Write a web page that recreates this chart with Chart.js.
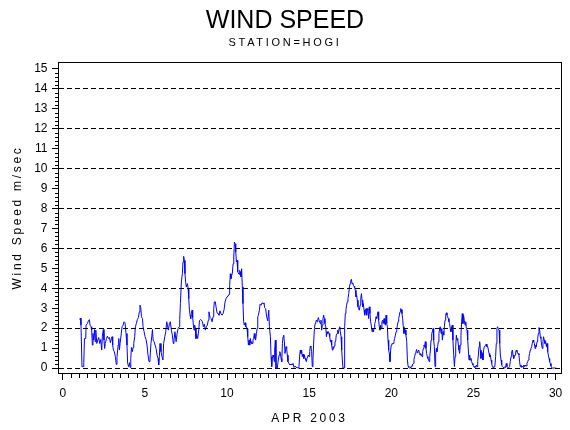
<!DOCTYPE html>
<html>
<head>
<meta charset="utf-8">
<title>Wind Speed - HOGI</title>
<script src="https://cdn.jsdelivr.net/npm/chart.js@4/dist/chart.umd.min.js"></script>
<style>
  html, body { margin: 0; padding: 0; background: #fff; }
  #wrap { width: 570px; height: 430px; }
</style>
</head>
<body>
<div id="wrap"><canvas id="windChart"></canvas></div>
<script>
// Hourly-ish readings, day of month (April 2003)
const days = [
  1.03, 1.07, 1.11, 1.17, 1.26, 1.28, 1.32, 1.40, 1.42, 1.50,
  1.56, 1.62, 1.66, 1.72, 1.76, 1.80, 1.84, 1.88, 1.93, 1.97,
  2.01, 2.07, 2.13, 2.19, 2.25, 2.31, 2.37, 2.41, 2.47, 2.51,
  2.55, 2.59, 2.66, 2.72, 2.78, 2.84, 2.90, 2.96, 3.00, 3.04,
  3.08, 3.14, 3.20, 3.26, 3.30, 3.37, 3.41, 3.45, 3.49, 3.55,
  3.61, 3.67, 3.73, 3.79, 3.85, 3.91, 3.95, 4.01, 4.06, 4.10,
  4.14, 4.18, 4.24, 4.28, 4.32, 4.38, 4.42, 4.48, 4.54, 4.60,
  4.66, 4.70, 4.75, 4.79, 4.85, 4.89, 4.95, 5.01, 5.07, 5.13,
  5.19, 5.25, 5.31, 5.37, 5.42, 5.46, 5.50, 5.56, 5.62, 5.68,
  5.74, 5.80, 5.84, 5.88, 5.92, 5.98, 6.04, 6.10, 6.14, 6.21,
  6.27, 6.33, 6.37, 6.43, 6.49, 6.55, 6.61, 6.67, 6.73, 6.77,
  6.83, 6.90, 6.96, 7.02, 7.08, 7.12, 7.16, 7.22, 7.28, 7.32,
  7.36, 7.40, 7.44, 7.48, 7.52, 7.59, 7.63, 7.67, 7.71, 7.75,
  7.79, 7.83, 7.87, 7.91, 7.95, 7.99, 8.03, 8.07, 8.11, 8.15,
  8.21, 8.28, 8.32, 8.38, 8.44, 8.50, 8.56, 8.62, 8.68, 8.74,
  8.80, 8.86, 8.90, 8.97, 9.03, 9.09, 9.15, 9.19, 9.23, 9.29,
  9.33, 9.39, 9.45, 9.51, 9.57, 9.63, 9.70, 9.76, 9.82, 9.88,
  9.94, 10.00, 10.06, 10.12, 10.16, 10.20, 10.24, 10.28, 10.32, 10.37,
  10.41, 10.45, 10.49, 10.53, 10.57, 10.61, 10.65, 10.69, 10.73, 10.77,
  10.81, 10.85, 10.89, 10.93, 10.97, 11.01, 11.05, 11.10, 11.14, 11.18,
  11.22, 11.26, 11.30, 11.34, 11.38, 11.42, 11.46, 11.50, 11.54, 11.58,
  11.62, 11.66, 11.70, 11.74, 11.79, 11.83, 11.87, 11.91, 11.97, 12.01,
  12.07, 12.13, 12.19, 12.25, 12.29, 12.35, 12.41, 12.48, 12.54, 12.58,
  12.64, 12.68, 12.72, 12.76, 12.80, 12.84, 12.88, 12.90, 12.94, 12.98,
  13.06, 13.12, 13.17, 13.21, 13.25, 13.29, 13.33, 13.37, 13.41, 13.45,
  13.49, 13.53, 13.59, 13.63, 13.67, 13.71, 13.77, 13.83, 13.90, 13.96,
  14.02, 14.08, 14.14, 14.20, 14.26, 14.32, 14.38, 14.42, 14.46, 14.50,
  14.54, 14.58, 14.63, 14.67, 14.71, 14.75, 14.79, 14.83, 14.87, 14.91,
  14.95, 14.99, 15.03, 15.07, 15.11, 15.15, 15.19, 15.23, 15.28, 15.32,
  15.36, 15.40, 15.44, 15.48, 15.52, 15.56, 15.60, 15.64, 15.68, 15.72,
  15.76, 15.80, 15.84, 15.88, 15.92, 15.96, 16.01, 16.05, 16.09, 16.13,
  16.17, 16.21, 16.25, 16.29, 16.33, 16.37, 16.41, 16.45, 16.49, 16.53,
  16.57, 16.61, 16.65, 16.70, 16.74, 16.78, 16.82, 16.86, 16.90, 16.94,
  16.98, 17.02, 17.06, 17.14, 17.16, 17.20, 17.24, 17.28, 17.32, 17.36,
  17.41, 17.45, 17.49, 17.53, 17.57, 17.61, 17.65, 17.69, 17.73, 17.77,
  17.81, 17.85, 17.89, 17.93, 17.97, 18.01, 18.05, 18.10, 18.14, 18.18,
  18.22, 18.26, 18.30, 18.34, 18.38, 18.42, 18.46, 18.50, 18.54, 18.58,
  18.62, 18.66, 18.70, 18.74, 18.78, 18.83, 18.87, 18.91, 18.95, 18.99,
  19.03, 19.07, 19.11, 19.15, 19.19, 19.23, 19.27, 19.31, 19.35, 19.39,
  19.43, 19.47, 19.51, 19.56, 19.60, 19.64, 19.68, 19.72, 19.76, 19.80,
  19.84, 19.88, 19.92, 19.96, 20.00, 20.04, 20.08, 20.12, 20.16, 20.20,
  20.25, 20.29, 20.33, 20.37, 20.41, 20.45, 20.49, 20.53, 20.57, 20.61,
  20.65, 20.69, 20.73, 20.77, 20.81, 20.85, 20.89, 20.94, 20.98, 21.02,
  21.06, 21.10, 21.14, 21.18, 21.22, 21.26, 21.30, 21.34, 21.38, 21.42,
  21.46, 21.50, 21.54, 21.58, 21.62, 21.67, 21.71, 21.75, 21.79, 21.83,
  21.87, 21.91, 21.95, 21.99, 22.03, 22.07, 22.11, 22.15, 22.19, 22.23,
  22.27, 22.31, 22.34, 22.38, 22.42, 22.46, 22.50, 22.54, 22.58, 22.62,
  22.66, 22.70, 22.74, 22.78, 22.82, 22.86, 22.90, 22.94, 22.98, 23.03,
  23.07, 23.11, 23.15, 23.19, 23.23, 23.27, 23.31, 23.35, 23.39, 23.43,
  23.47, 23.51, 23.55, 23.59, 23.63, 23.67, 23.71, 23.75, 23.80, 23.84,
  23.88, 23.92, 23.96, 24.00, 24.04, 24.08, 24.12, 24.16, 24.20, 24.24,
  24.28, 24.32, 24.36, 24.40, 24.44, 24.49, 24.53, 24.57, 24.61, 24.65,
  24.69, 24.73, 24.77, 24.81, 24.85, 24.89, 24.93, 24.97, 25.01, 25.05,
  25.09, 25.14, 25.18, 25.22, 25.26, 25.30, 25.34, 25.38, 25.42, 25.46,
  25.50, 25.54, 25.58, 25.62, 25.66, 25.70, 25.74, 25.78, 25.82, 25.87,
  25.91, 25.95, 25.99, 26.03, 26.07, 26.11, 26.15, 26.19, 26.23, 26.27,
  26.31, 26.35, 26.39, 26.43, 26.47, 26.51, 26.56, 26.60, 26.64, 26.68,
  26.72, 26.76, 26.80, 26.84, 26.88, 26.92, 26.96, 27.00, 27.04, 27.08,
  27.12, 27.16, 27.20, 27.24, 27.29, 27.33, 27.37, 27.41, 27.45, 27.49,
  27.53, 27.57, 27.61, 27.65, 27.69, 27.73, 27.77, 27.81, 27.85, 27.89,
  27.93, 27.98, 28.02, 28.06, 28.10, 28.14, 28.18, 28.22, 28.26, 28.30,
  28.34, 28.38, 28.42, 28.46, 28.50, 28.54, 28.58, 28.63, 28.67, 28.71,
  28.75, 28.79, 28.83, 28.87, 28.91, 28.95, 28.99, 29.03, 29.07, 29.11,
  29.15, 29.19, 29.23, 29.27, 29.31, 29.35, 29.40, 29.44, 29.48, 29.52,
  29.56, 29.60, 29.64, 29.68, 29.72, 29.76, 29.80, 29.92, 30.04
];

// Wind speed, m/sec
const speed = [
  2.43, 2.50, 2.15, 0.07, 0.07, 0.27, 1.48, 1.48, 2.15, 2.23,
  2.37, 2.43, 2.15, 2.07, 1.90, 1.15, 1.73, 1.40, 1.93, 1.32,
  1.90, 1.23, 1.40, 1.53, 1.23, 1.43, 0.90, 1.60, 1.93, 1.40,
  0.98, 1.23, 1.48, 1.60, 1.48, 1.53, 1.27, 1.48, 1.57, 1.15,
  0.90, 0.82, 0.57, 0.18, 0.53, 1.15, 1.48, 0.90, 1.23, 1.65,
  2.07, 2.15, 2.32, 2.27, 1.73, 1.15, 0.23, 0.07, 0.27, 0.03,
  0.48, 1.03, 0.82, 1.03, 1.23, 1.57, 2.07, 2.23, 2.43, 2.53,
  2.82, 3.15, 3.03, 2.57, 2.48, 2.07, 1.82, 1.57, 1.43, 1.15,
  0.65, 0.32, 0.48, 1.23, 1.60, 1.93, 1.40, 1.32, 1.15, 0.98,
  0.65, 0.48, 0.15, 0.57, 1.23, 0.82, 0.57, 0.40, 1.23, 1.57,
  1.82, 2.32, 2.15, 1.90, 2.23, 2.32, 1.90, 1.65, 1.23, 1.40,
  1.82, 1.32, 1.73, 1.98, 2.07, 2.43, 3.23, 4.32, 4.73, 5.32,
  5.60, 5.40, 4.73, 4.32, 4.07, 4.23, 4.00, 3.48, 2.90, 2.65,
  2.48, 2.73, 2.90, 2.53, 2.15, 1.90, 2.15, 1.98, 1.48, 1.70,
  1.48, 1.90, 2.37, 2.43, 2.40, 2.32, 2.07, 2.20, 1.90, 2.07,
  2.15, 2.40, 2.82, 2.53, 2.48, 2.32, 2.57, 2.98, 3.32, 3.32,
  3.07, 2.77, 2.73, 2.65, 2.87, 2.73, 2.65, 2.73, 2.93, 3.32,
  3.48, 3.57, 3.60, 3.70, 4.15, 4.73, 4.48, 4.65, 4.73, 5.23,
  5.57, 6.32, 6.23, 5.82, 5.32, 5.40, 4.82, 4.77, 4.70, 4.90,
  4.82, 4.57, 4.98, 4.07, 3.23, 2.32, 2.15, 2.27, 2.07, 2.07,
  1.98, 1.57, 1.15, 1.40, 1.15, 1.48, 1.23, 1.32, 1.23, 1.40,
  1.48, 1.73, 1.48, 1.40, 1.73, 1.98, 2.57, 2.65, 2.90, 3.20,
  3.15, 3.27, 3.23, 3.27, 3.03, 2.98, 2.57, 2.37, 2.90, 2.07,
  1.57, 0.57, 0.07, 0.48, 0.65, 0.57, 0.32, 0.90, 1.40, 0.00,
  0.00, 0.40, 0.65, 0.82, 0.73, 0.48, 0.32, 1.23, 1.57, 1.65,
  1.32, 0.73, 1.07, 0.98, 0.65, 0.32, 0.23, 0.15, 0.20, 0.15,
  0.23, 0.03, 0.10, 0.03, 0.03, 0.00, 0.07, 0.60, 0.90, 0.73,
  0.90, 0.57, 0.70, 0.48, 0.65, 0.48, 0.40, 0.32, 0.48, 0.48,
  0.65, 0.57, 0.82, 1.10, 1.03, 0.82, 0.07, 0.40, 1.40, 1.98,
  2.23, 2.32, 2.40, 2.32, 2.43, 2.53, 2.40, 2.40, 2.23, 2.40,
  1.90, 2.15, 2.48, 2.65, 2.48, 2.23, 2.07, 1.57, 1.82, 1.73,
  1.82, 1.73, 1.57, 1.32, 1.40, 1.15, 0.90, 1.07, 0.98, 1.10,
  1.32, 1.32, 1.65, 1.73, 1.90, 1.73, 1.98, 2.07, 1.82, 1.57,
  0.90, 0.40, 0.00, 0.00, 2.07, 2.73, 2.93, 3.15, 3.32, 3.48,
  3.73, 4.07, 4.23, 4.37, 4.45, 4.23, 4.27, 4.15, 4.10, 4.03,
  3.90, 3.57, 3.65, 3.40, 3.07, 2.98, 2.90, 3.15, 3.48, 3.73,
  3.40, 3.07, 3.23, 2.90, 2.65, 2.82, 2.98, 2.65, 2.98, 2.90,
  2.48, 3.07, 2.73, 2.32, 2.15, 1.82, 1.98, 1.82, 1.98, 2.23,
  2.32, 2.57, 2.48, 2.65, 2.82, 2.40, 2.07, 1.90, 2.15, 1.98,
  2.32, 2.40, 2.23, 2.48, 2.23, 2.15, 2.65, 2.23, 2.07, 1.40,
  0.90, 0.73, 0.32, 0.90, 1.15, 1.23, 1.23, 1.23, 1.32, 1.48,
  1.65, 1.82, 1.90, 2.15, 2.32, 2.48, 2.65, 2.82, 2.98, 2.93,
  2.73, 2.48, 2.07, 1.73, 1.98, 1.90, 1.65, 1.32, 0.40, 0.10,
  0.03, 0.00, 0.03, 0.00, 0.10, 0.10, 0.20, 0.23, 0.43, 0.57,
  0.73, 0.82, 0.93, 0.77, 0.82, 0.90, 0.73, 0.65, 0.73, 0.65,
  0.57, 0.82, 0.98, 1.15, 1.07, 1.32, 0.98, 0.73, 0.57, 0.48,
  0.40, 0.32, 0.57, 0.90, 1.40, 1.73, 1.82, 1.98, 1.40, 1.07,
  0.07, 0.65, 0.98, 0.82, 1.07, 1.32, 1.73, 1.98, 2.07, 1.73,
  1.98, 1.40, 1.82, 1.65, 2.07, 2.40, 2.65, 2.77, 2.65, 2.57,
  2.48, 2.32, 2.23, 1.98, 1.82, 2.07, 2.15, 1.40, 0.65, 0.07,
  0.57, 1.07, 1.65, 1.40, 1.48, 1.15, 0.90, 0.73, 1.15, 1.65,
  2.32, 2.73, 2.23, 2.65, 2.40, 2.15, 2.32, 1.98, 1.90, 1.40,
  0.90, 0.40, 0.65, 0.40, 0.48, 0.32, 0.23, 0.15, 0.10, 0.03,
  0.10, 0.03, 0.15, 0.07, 0.32, 0.65, 1.07, 1.32, 0.90, 0.48,
  0.82, 0.73, 0.40, 0.90, 1.07, 1.10, 1.15, 1.20, 1.07, 1.07,
  0.90, 0.73, 0.57, 0.65, 0.40, 0.23, 0.07, 0.03, 0.00, 0.07,
  0.15, 0.57, 1.23, 1.98, 2.07, 1.98, 1.90, 1.23, 0.65, 0.40,
  0.15, 0.07, 0.03, 0.03, 0.00, 0.07, 0.03, 0.23, 0.07, 0.03,
  0.00, 0.03, 0.07, 0.32, 0.57, 0.82, 0.90, 0.65, 0.48, 0.57,
  0.65, 0.82, 0.90, 0.82, 0.73, 0.73, 0.65, 0.32, 0.07, 0.15,
  0.03, 0.10, 0.03, 0.15, 0.07, 0.15, 0.10, 0.10, 0.23, 0.32,
  0.40, 0.57, 0.73, 0.90, 0.98, 1.07, 1.23, 1.40, 1.32, 1.23,
  0.98, 1.15, 1.07, 1.32, 1.48, 1.73, 2.03, 1.90, 1.57, 1.48,
  1.15, 0.98, 1.32, 1.57, 1.40, 1.23, 1.32, 1.07, 1.23, 0.82,
  0.65, 0.48, 0.32, 0.23, 0.10, 0.02, 0.00, 0.00, 0.00
];

const xTickLabels = [0, 5, 10, 15, 20, 25, 30];
const yTickLabels = [0, 1, 2, 3, 4, 5, 6, 7, 8, 9, 10, 11, 12, 13, 14, 15];
const dashedLevels = [0, 2, 4, 6, 8, 10, 12, 14];

Chart.defaults.font.family = "'Liberation Sans', Arial, sans-serif";
Chart.defaults.color = '#000';

// axis titles and the station line are spaced out like the original output;
// they are drawn in the z=1 layers, after the datasets
const spacedText = {
  id: 'spacedText',
  beforeDraw(chart) { chart.ctx.letterSpacing = '0px'; },
  afterDatasetsDraw(chart) { chart.ctx.letterSpacing = '2.7px'; },
  afterDraw(chart) { chart.ctx.letterSpacing = '0px'; }
};

// frame round the plot area plus the small in-between ticks
const frameTicks = {
  id: 'frameTicks',
  afterDraw(chart) {
    const { ctx, chartArea: a, scales: { x, y } } = chart;
    ctx.save();
    ctx.strokeStyle = '#000';
    ctx.lineWidth = 1;
    ctx.beginPath();
    for (let i = 1; i < 60; i++) {
      if (i % 10 === 0) continue;
      const px = Math.round(x.getPixelForValue(i / 2)) + 0.5;
      ctx.moveTo(px, a.bottom);
      ctx.lineTo(px, a.bottom + 5);
    }
    for (let i = 1; i < 75; i++) {
      if (i % 5 === 0) continue;
      const py = Math.round(y.getPixelForValue(i / 5)) + 0.5;
      ctx.moveTo(a.left, py);
      ctx.lineTo(a.left - 3, py);
    }
    ctx.stroke();
    ctx.strokeRect(Math.round(a.left) + 0.5, Math.round(a.top) + 0.5,
      Math.round(a.width), Math.round(a.height));
    ctx.restore();
  }
};

new Chart(document.getElementById('windChart'), {
  type: 'line',
  data: {
    datasets: [{
      label: 'Wind Speed',
      data: days.map((d, i) => ({ x: d, y: speed[i] })),
      xAxisID: 'x',
      yAxisID: 'y',
      borderColor: '#0000ff',
      borderWidth: 1,
      pointRadius: 0,
      tension: 0,
      fill: false
    }]
  },
  options: {
    responsive: true,
    maintainAspectRatio: false,
    animation: false,
    layout: { padding: { top: 0, right: 9, bottom: 0, left: 9 } },
    plugins: {
      legend: { display: false },
      tooltip: { enabled: false },
      title: {
        display: true,
        text: 'WIND SPEED',
        color: '#000',
        font: { size: 25, weight: 'normal' },
        padding: { top: 6, bottom: 0 }
      }
    },
    scales: {
      x: {
        type: 'linear',
        position: 'bottom',
        min: -0.29,
        max: 30.33,
        afterBuildTicks: s => { s.ticks = xTickLabels.map(v => ({ value: v })); },
        afterFit: s => { s.height = 57; },
        grid: { drawOnChartArea: false, tickLength: 7, tickColor: '#000', z: 1 },
        border: { color: '#000', z: 1 },
        ticks: { color: '#000', padding: 6, maxRotation: 0, autoSkip: false, font: { size: 12 } },
        title: { display: true, text: 'APR 2003', color: '#000', font: { size: 12 }, padding: { top: 0, bottom: 4 } }
      },
      station: {
        type: 'linear',
        position: 'top',
        fullSize: true,
        afterFit: s => { s.height = 26; },
        grid: { display: false, drawTicks: false, z: 1 },
        border: { display: false, z: 1 },
        ticks: { display: false },
        title: { display: true, text: 'STATION=HOGI', color: '#000', font: { size: 11 }, padding: { top: 0.5, bottom: 0 } }
      },
      y: {
        type: 'linear',
        position: 'left',
        min: -0.25,
        max: 15.35,
        afterBuildTicks: s => { s.ticks = yTickLabels.map(v => ({ value: v })); },
        afterFit: s => { s.width = 49; },
        grid: {
          color: c => dashedLevels.includes(c.tick && c.tick.value) ? '#000' : 'rgba(0,0,0,0)',
          tickColor: '#000',
          tickLength: 6,
          z: 1
        },
        border: { color: '#000', dash: [5, 3], z: 1 },
        ticks: { color: '#000', padding: 4.5, font: { size: 12 } },
        title: { display: true, text: 'Wind Speed m/sec', color: '#000', font: { size: 12 }, padding: { top: 1.3, bottom: 0 } }
      }
    }
  },
  plugins: [spacedText, frameTicks]
});
</script>
</body>
</html>
